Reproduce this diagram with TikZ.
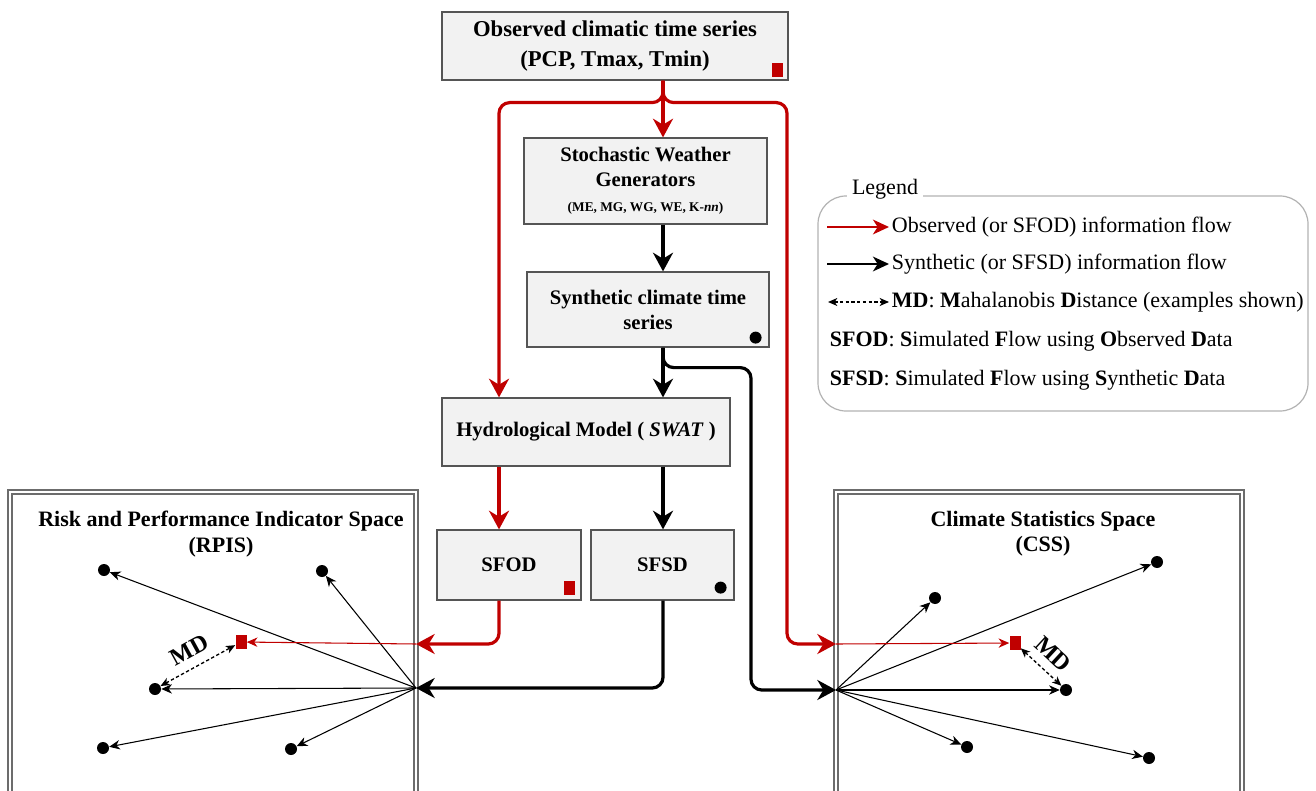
\documentclass[tikz,border=0pt]{standalone}
\usepackage{fontspec}
\setmainfont{Liberation Serif}
\usetikzlibrary{arrows.meta,positioning}
\definecolor{obsred}{RGB}{192,0,0}
\definecolor{boxgray}{RGB}{242,242,242}
\definecolor{edgegray}{RGB}{85,85,85}

\begin{document}
\begin{tikzpicture}[x=0.75pt, y=-0.75pt,
    box/.style={draw=edgegray, fill=boxgray, line width=0.9pt, align=center, inner sep=2pt,
        font=\fontsize{15.5}{18.75}\selectfont\bfseries},
    redflow/.style={draw=obsred, line width=2.4pt, rounded corners=8pt,
        -{Stealth[length=14pt,width=15pt,inset=4.5pt]}},
    synflow/.style={draw=black, line width=2.4pt, rounded corners=8pt,
        -{Stealth[length=14pt,width=15pt,inset=4.5pt]}},
    pt/.style={circle, fill=black, inner sep=0pt, minimum size=9pt},
    obsmark/.style={rectangle, fill=obsred, inner sep=0pt, minimum width=8.25pt, minimum height=10.5pt},
    ray/.style={line width=0.8pt, -{Stealth[length=8pt,width=7pt,inset=2.5pt]}},
    mdline/.style={line width=1pt, dash pattern=on 2.5pt off 1.8pt,
        {Stealth[length=7pt,width=6pt,inset=2pt]}-{Stealth[length=7pt,width=6pt,inset=2pt]}},
    mdlabel/.style={font=\fontsize{18}{21}\selectfont\bfseries, inner sep=1pt},
    spacebox/.style={draw=gray!85!black, double=white, double distance=1.2pt, line width=1.4pt},
    spacetitle/.style={align=center, font=\fontsize{16.5}{19}\selectfont\bfseries},
    legtext/.style={font=\fontsize{16.5}{19}\selectfont, inner sep=2pt},
    legred/.style={draw=obsred, line width=2pt, -{Stealth[length=12pt,width=11pt,inset=3.5pt]}},
    legblack/.style={draw=black, line width=2pt, -{Stealth[length=12pt,width=11pt,inset=3.5pt]}}
]
    \clip (0,0) rectangle (1316,791);

    % flow chart boxes
    \node[box, minimum width=259.5pt, minimum height=51pt, font=\fontsize{17}{22}\selectfont\bfseries]
        (obs) at (615,46) {Observed climatic time series\\(PCP, Tmax, Tmin)};
    \node[box, minimum width=182.25pt, minimum height=64.5pt] (swg) at (645.5,181)
        {Stochastic Weather\\Generators\\{\fontsize{10}{12}\selectfont(ME, MG, WG, WE, K-\textit{nn})}};
    \node[box, minimum width=181.5pt, minimum height=56.25pt] (syn) at (648,309.5) {Synthetic climate time\\series};
    \node[box, minimum width=216pt, minimum height=51pt] (hyd) at (586,432) {Hydrological Model ( \textit{SWAT} )};
    \node[box, minimum width=108pt, minimum height=52.5pt] (sfod) at (509,565) {SFOD};
    \node[box, minimum width=107.25pt, minimum height=52.5pt] (sfsd) at (662.5,565) {SFSD};

    % markers in boxes
    \node[obsmark] (obsm) at ([xshift=-8.25pt,yshift=8.25pt]obs.south east) {};
    \node[obsmark] (sfodm) at ([xshift=-9pt,yshift=9.75pt]sfod.south east) {};
    \node[pt] (synm) at ([xshift=-10.5pt,yshift=7.5pt]syn.south east) {};
    \node[pt] (sfsdm) at ([xshift=-10.5pt,yshift=9.75pt]sfsd.south east) {};

    % columns and hubs
    \coordinate (mainx) at (663,0);
    \coordinate (redx) at (499,0);
    \coordinate (redrx) at (787,0);
    \coordinate (synx) at (751,0);
    \coordinate (rpisred) at (416,644);
    \coordinate (rpishub) at (416,688);
    \coordinate (cssred) at (836,644);
    \coordinate (csshub) at (836,690);

    % spaces
    \draw[spacebox] (10,492) rectangle (416,810);
    \draw[spacebox] (836,492) rectangle (1242,810);
    \node[spacetitle] (rpist) at (221,534) {Risk and Performance Indicator Space\\(RPIS)};
    \node[spacetitle] (csst) at (1043,534) {Climate Statistics Space\\(CSS)};

    % observed flows
    \draw[redflow] (obs.south -| mainx) -- (swg.north -| mainx);
    \draw[redflow] (obs.south -| mainx) -- ++(0,22) -| (hyd.north -| redx);
    \draw[redflow] (obs.south -| mainx) -- ++(0,22) -| (redrx |- cssred) -- (cssred);
    \draw[redflow] (hyd.south -| redx) -- (sfod.north -| redx);
    \draw[redflow] (sfod.south -| redx) |- (rpisred);

    % synthetic flows
    \draw[synflow] (swg.south -| mainx) -- (syn.north -| mainx);
    \draw[synflow] (syn.south -| mainx) -- (hyd.north -| mainx);
    \draw[synflow] (syn.south -| mainx) -- ++(0,20) -| (synx |- csshub) -- (csshub);
    \draw[synflow] (hyd.south -| mainx) -- (sfsd.north -| mainx);
    \draw[synflow] (sfsd.south -| mainx) |- (rpishub);

    % RPIS points
    \node[pt] (ra) at (104,570) {};
    \node[pt] (rb) at (322,571) {};
    \node[pt] (rc) at (155,689) {};
    \node[pt] (rd) at (103,748) {};
    \node[pt] (re) at (291,749) {};
    \node[obsmark] (rsq) at (241,642) {};
    \foreach \d in {ra,rb,rc,rd,re}
        \draw[ray] (rpishub) -- (\d);
    \draw[ray, obsred] (rpisred) -- (rsq);
    \draw[mdline] (rc) -- (rsq) node[midway, above=6pt, sloped, mdlabel] {MD};

    % CSS points
    \node[pt] (ca) at (935,598) {};
    \node[pt] (cb) at (1157,562) {};
    \node[pt] (cc) at (1066,690) {};
    \node[pt] (cd) at (967,747) {};
    \node[pt] (ce) at (1149,758) {};
    \node[obsmark] (csq) at (1015,643) {};
    \foreach \d in {ca,cb,cc,cd,ce}
        \draw[ray] (csshub) -- (\d);
    \draw[ray, obsred] (cssred) -- (csq);
    \draw[mdline] (csq) -- (cc) node[midway, above=6pt, sloped, mdlabel] {MD};

    % legend
    \draw[draw=gray!60, line width=0.9pt, rounded corners=21pt] (818,196) rectangle (1308,411);
    \node[legtext, fill=white, inner sep=4pt] (legtitle) at (885,189) {Legend};
    \coordinate (l1) at (827,227);
    \coordinate (l2) at (827,264);
    \coordinate (l3) at (828,302);
    \node[legtext, anchor=west] (leg1) at (889,227) {Observed (or SFOD) information flow};
    \node[legtext, anchor=west] (leg2) at (889,264) {Synthetic (or SFSD) information flow};
    \node[legtext, anchor=west] (leg3) at (889,302)
        {\textbf{MD}: \textbf{M}ahalanobis \textbf{D}istance (examples shown)};
    \node[legtext, anchor=west] (leg4) at (827,341)
        {\textbf{SFOD}: \textbf{S}imulated \textbf{F}low using \textbf{O}bserved \textbf{D}ata};
    \node[legtext, anchor=west] (leg5) at (827,380)
        {\textbf{SFSD}: \textbf{S}imulated \textbf{F}low using \textbf{S}ynthetic \textbf{D}ata};
    \draw[legred] (l1) -- (leg1.west);
    \draw[legblack] (l2) -- (leg2.west);
    \draw[mdline] (l3) -- (leg3.west);
\end{tikzpicture}
\end{document}
